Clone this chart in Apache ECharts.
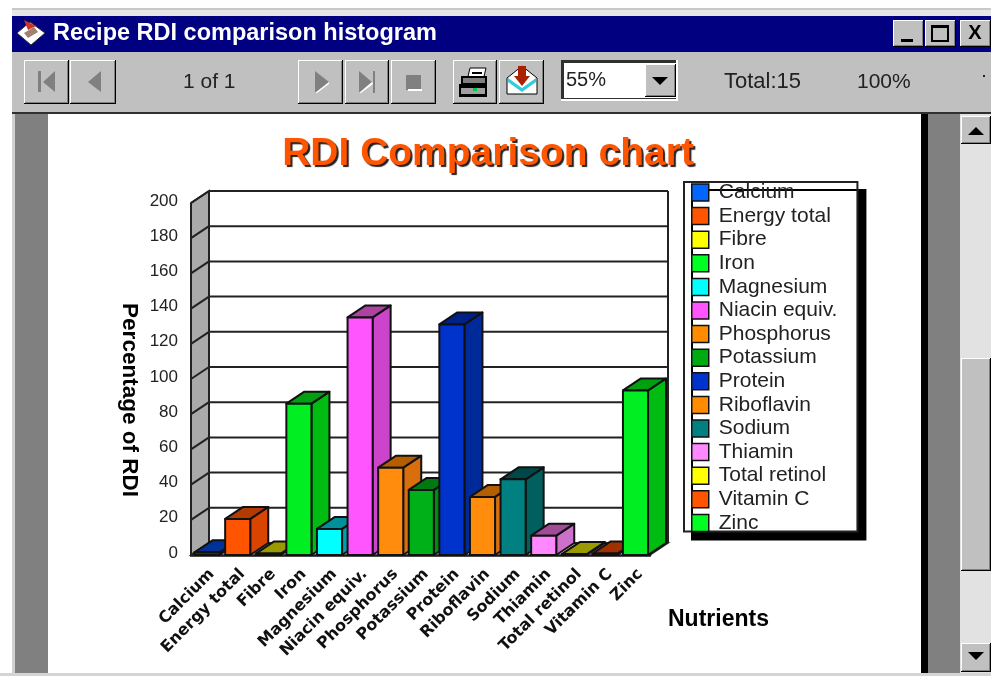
<!DOCTYPE html>
<html>
<head>
<meta charset="utf-8">
<style>html,body{margin:0;padding:0;background:#fff}#c{width:991px;height:676px;filter:blur(0.4px)}</style>
<script src="https://cdn.jsdelivr.net/npm/echarts@6/dist/echarts.min.js"></script>
</head>
<body>
<div id="c"></div>
<script>
const categories = ['Calcium','Energy total','Fibre','Iron','Magnesium','Niacin equiv.','Phosphorus','Potassium','Protein','Riboflavin','Sodium','Thiamin','Total retinol','Vitamin C','Zinc'];
const values = [1.5,20.5,0.8,86,14.8,135,49.6,37,131,33,43,11,0.5,0.8,93.5];
const legendColors = ['#0066ff','#ff5500','#ffff00','#00ff22','#00ffff','#ff55ff','#ff8c00','#00aa11','#0033cc','#ff8c00','#008080','#ff88ff','#ffff00','#ff5500','#00ff22'];
const barColors = ['#0033cc','#ff5500','#cccc00','#00ee22','#00ffff','#ff55ff','#ff8c0c','#00b018','#0033cc','#ff8c0c','#008080','#ff88ff','#cccc00','#ff5500','#00ee22'];
const sideColors = ['#002a99','#d94400','#999900','#00bb11','#009faa','#cc44cc','#d96f0c','#008c11','#002a99','#d96f0c','#005f5f','#cc70cc','#999900','#b33a00','#00bb11'];
const topColors = ['#003399','#b33a00','#999900','#00a010','#009099','#aa44a0','#b35f00','#007a10','#002288','#b35f00','#004848','#a04c98','#999900','#a03000','#00a010'];
const yTicks = [0,20,40,60,80,100,120,140,160,180,200];

const DX = 18, DY = -12;

function r(x,y,w,h,fill){return {type:'rect',shape:{x,y,width:w,height:h},style:{fill}};}
function poly(points,fill,stroke){return {type:'polygon',shape:{points},style:{fill,stroke:stroke||null,lineWidth:stroke?1:0}};}
function tx(text,x,y,font,fill,align){return {type:'text',x,y,style:{text,font,fill:fill||'#222',align:align||'left',verticalAlign:'middle'}};}
function bevel(x,y,w,h){return [
  r(x,y,w,h,'#000000'), r(x,y,w-1,h-1,'#ffffff'), r(x+1,y+1,w-2,h-2,'#808080'), r(x+1,y+1,w-3,h-3,'#c0c0c0')];}

const chrome = [];
chrome.push(r(12,8,979,2,'#c8c8c8'), r(12,10,979,6,'#e6e6e6'));
chrome.push(r(12,16,979,36,'#000080'));
chrome.push(r(12,52,979,60,'#c0c0c0'), r(12,112,979,2,'#303030'));
chrome.push(r(12,114,3,559,'#d0d0d0'), r(15,114,33,559,'#808080'), r(48,114,873,559,'#ffffff'));
chrome.push(r(921,114,7,559,'#000000'), r(928,114,32,559,'#808080'));
chrome.push(r(960,114,31,559,'#e2e2e2'));
chrome.push(r(0,673,991,3,'#d4d4d4'));
// title bar
chrome.push(poly([[17,33],[30,22],[45,33],[31,45]],'#ffffff','#333'), poly([[24,20],[36,26],[28,30]],'#cc3322'), poly([[24,33],[34,27],[38,32],[28,38]],'#a08070'));
chrome.push(tx('Recipe RDI comparison histogram',53,34,'bold 23.5px "Liberation Sans"','#ffffff'));
// window buttons
chrome.push(...bevel(893,20,31,27),...bevel(925,20,31,27),...bevel(960,20,31,27));
chrome.push(r(901,39,12,3,'#000'));
chrome.push(r(931,25,18,17,'#000'),r(933,28,14,12,'#c0c0c0'));
chrome.push(tx('X',975,33,'bold 20px "Liberation Sans"','#000','center'));
// nav buttons
[[24,45],[70,46],[298,45],[345,44],[391,45],[453,44],[499,45]].forEach(b=>chrome.push(...bevel(b[0],60,b[1],44)));
chrome.push(r(38,71,3,21,'#808080'),poly([[55,71],[55,92],[43,82]],'#808080'));
chrome.push(poly([[101,71],[101,92],[88,82]],'#808080'));
chrome.push(poly([[315,71],[315,93],[329,82]],'#808080'),poly([[315,93],[329,82],[329,84],[317,93]],'#ffffff'));
chrome.push(poly([[359,71],[359,93],[372,82]],'#808080'),poly([[359,93],[372,82],[373,84],[361,93]],'#ffffff'),r(373,71,2,22,'#808080'));
chrome.push(r(406,75,15,15,'#808080'),r(408,89,14,2,'#ffffff'));
// printer
chrome.push(r(459,84,28,13,'#000'),r(461,88,24,6,'#a0a0a0'),r(473,88,4,3,'#00cc44'),poly([[466,85],[470,68],[486,68],[482,85]],'#fff','#000'),r(461,76,26,9,'#000'),r(463,78,22,5,'#808080'),r(472,72,10,2,'#000'));
// mail
chrome.push(poly([[507,78],[522,66],[537,78],[537,94],[507,94]],'#ffffff','#000'),poly([[508,78],[522,88],[536,78],[536,82],[522,92],[508,82]],'#33ccdd'),r(518,66,8,12,'#aa2200'),poly([[514,76],[530,76],[522,86]],'#aa2200'));
// zoom combo
chrome.push(r(561,60,117,41,'#ffffff'),r(561,60,115,39,'#303030'),r(564,63,112,35,'#ffffff'));
chrome.push(...bevel(645,64,31,33),poly([[652,77],[668,77],[660,85]],'#000'));
chrome.push(tx('55%',566,80,'20px "Liberation Sans"','#222'));
chrome.push(tx('1 of 1',183,82,'21px "Liberation Sans"','#222'));
chrome.push(tx('Total:15',724,82,'22px "Liberation Sans"','#222'));
chrome.push(tx('100%',857,82,'21px "Liberation Sans"','#222'));
chrome.push(r(983,75,2,2,'#222'));
// scrollbar
chrome.push(...bevel(961,116,30,28),poly([[968,135],[984,135],[976,127]],'#000'));
chrome.push(...bevel(961,358,30,213));
chrome.push(...bevel(961,643,30,29),poly([[968,652],[984,652],[976,660]],'#000'));
chrome.forEach(e=>{e.z=-10;e.silent=true;});

function wallItem(params, api){
  const cs = params.coordSys;
  const v = api.value(0);
  const y = api.coord([0,v])[1];
  const x0 = cs.x, x1 = cs.x+cs.width;
  const children = [];
  const stroke = {stroke:'#222',lineWidth:2};
  if(params.dataIndex===0){
    const top = cs.y, bot = cs.y+cs.height;
    children.push({type:'polygon',shape:{points:[[x0,bot],[x0,top],[x0+DX,top+DY],[x0+DX,bot+DY]]},style:{fill:'#aaaaaa',stroke:'#222',lineWidth:2}});
    children.push({type:'polygon',shape:{points:[[x0,bot],[x0+DX,bot+DY],[x1+DX,bot+DY],[x1,bot]]},style:{fill:'#ffffff',stroke:'#222',lineWidth:1.5}});
    children.push({type:'line',shape:{x1:x1+DX,y1:bot+DY,x2:x1+DX,y2:top+DY},style:stroke});
  }
  children.push({type:'line',shape:{x1:x0,y1:y,x2:x0+DX,y2:y+DY},style:stroke});
  children.push({type:'line',shape:{x1:x0+DX,y1:y+DY,x2:x1+DX,y2:y+DY},style:stroke});
  return {type:'group',children};
}

function barSeries(i){
  return {
    name: categories[i],
    type:'custom',
    coordinateSystem:'cartesian2d',
    z:3+i,
    clip:false,
    itemStyle:{color:legendColors[i]},
    encode:{x:0,y:1},
    data:[[categories[i],values[i]]],
    renderItem(params,api){
      const c = api.coord([api.value(0),api.value(1)]);
      const b = api.coord([api.value(0),0]);
      const w = api.size([1,0])[0]*0.82;
      const xl = c[0]-w/2+0.8, xr = xl+w, yt=c[1], yb=b[1];
      const line={stroke:'#111',lineWidth:2,lineJoin:'round'};
      return {type:'group',children:[
        {type:'polygon',shape:{points:[[xr,yb],[xr+DX,yb+DY],[xr+DX,yt+DY],[xr,yt]]},style:Object.assign({fill:sideColors[i]},line)},
        {type:'polygon',shape:{points:[[xl,yt],[xl+DX,yt+DY],[xr+DX,yt+DY],[xr,yt]]},style:Object.assign({fill:topColors[i]},line)},
        {type:'rect',shape:{x:xl,y:yt,width:w,height:yb-yt},style:Object.assign({fill:barColors[i]},line)}
      ]};
    }
  };
}

const chart = echarts.init(document.getElementById('c'),null,{renderer:'canvas',width:991,height:676});
chart.setOption({
  animation:false,
  backgroundColor:'#ffffff',
  textStyle:{fontFamily:'"Liberation Sans"'},
  title:{text:'RDI Comparison chart',left:483,top:130,textAlign:'center',
    textStyle:{color:'#ff5500',fontSize:39,fontWeight:'bold',fontFamily:'"Liberation Sans"',textShadowColor:'#222222',textShadowBlur:1,textShadowOffsetX:2,textShadowOffsetY:2}},
  graphic:{elements:chrome},
  legend:{
    orient:'vertical',left:684,top:182,
    data:categories,
    selectedMode:false,
    icon:'rect',itemWidth:17,itemHeight:17,itemGap:2.6,
    padding:[0,20,-2,7],
    backgroundColor:'#ffffff',borderColor:'#222',borderWidth:2,
    shadowColor:'#000000',shadowBlur:0,shadowOffsetX:8,shadowOffsetY:8,
    itemStyle:{borderColor:'#111',borderWidth:1.5},
    textStyle:{fontSize:21,color:'#222',fontFamily:'"Liberation Sans"',padding:[0,0,0,5]}
  },
  grid:{left:191,top:203,width:459,height:352,containLabel:false},
  xAxis:{
    type:'category',data:categories,
    axisLine:{show:true,lineStyle:{color:'#111',width:2.5}},
    axisTick:{show:false},
    axisLabel:{interval:0,rotate:45,margin:11,fontSize:16,fontWeight:'bold',color:'#111',fontFamily:'"DejaVu Sans"',align:'right',verticalAlign:'top'},
    name:'Nutrients',nameLocation:'end',nameGap:18,nameMoveOverlap:false,
    nameTextStyle:{fontSize:23,fontWeight:'bold',color:'#000',align:'left',verticalAlign:'top',padding:[53,0,0,0],fontFamily:'"Liberation Sans"'}
  },
  yAxis:{
    type:'value',min:0,max:200,interval:20,
    axisLine:{show:false},axisTick:{show:false},splitLine:{show:false},
    axisLabel:{margin:13,fontSize:17,color:'#222',verticalAlign:'bottom',padding:[0,0,-6.5,0],fontFamily:'"Liberation Sans"'},
    name:'Percentage of RDI',nameLocation:'middle',nameGap:50,nameRotate:-90,nameMoveOverlap:false,
    nameTextStyle:{fontSize:22.5,fontWeight:'bold',color:'#000',padding:[0,0,0,42],fontFamily:'"Liberation Sans"'}
  },
  series:[
    {name:'wall',type:'custom',coordinateSystem:'cartesian2d',z:1,clip:false,silent:true,encode:{y:0},data:yTicks.map(v=>[v]),renderItem:wallItem},
    ...categories.map((_,i)=>barSeries(i))
  ]
});
</script>
</body>
</html>
